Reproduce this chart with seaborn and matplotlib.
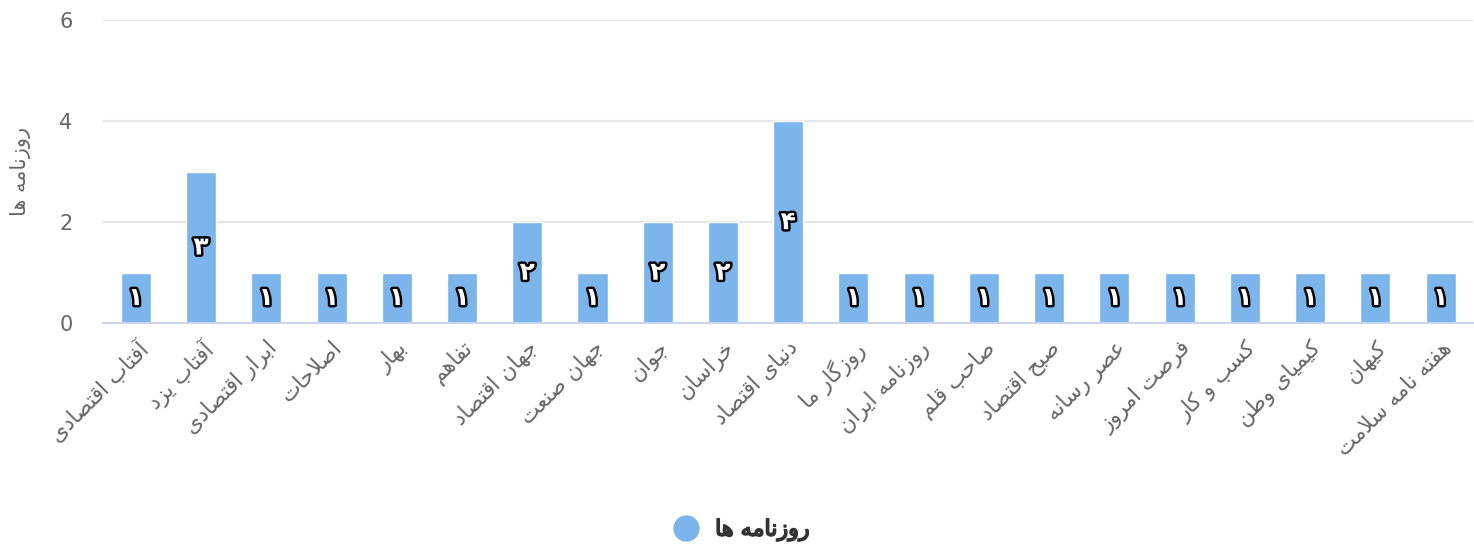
import numpy as np
import pandas as pd
import seaborn as sns
from matplotlib import pyplot as plt
from matplotlib import patheffects as pe
from matplotlib.lines import Line2D

# data
papers = ['آفتاب اقتصادی', 'آفتاب یزد', 'ابرار اقتصادی', 'اصلاحات', 'بهار', 'تفاهم',
          'جهان اقتصاد', 'جهان صنعت', 'جوان', 'خراسان', 'دنیای اقتصاد', 'روزگار ما',
          'روزنامه ایران', 'صاحب قلم', 'صبح اقتصاد', 'عصر رسانه', 'فرصت امروز',
          'کسب و کار', 'کیمیای وطن', 'کیهان', 'هفته نامه سلامت']
counts = [1, 3, 1, 1, 1, 1, 2, 1, 2, 2, 4, 1, 1, 1, 1, 1, 1, 1, 1, 1, 1]
series_name = 'روزنامه ها'
yticks = [0, 2, 4, 6]

# matplotlib has no arabic shaping -> map letters to presentation forms by hand
FORMS = {
    'ا': (0xFE8D, 0xFE8E), 'آ': (0xFE81, 0xFE82), 'د': (0xFEA9, 0xFEAA),
    'ذ': (0xFEAB, 0xFEAC), 'ر': (0xFEAD, 0xFEAE), 'ز': (0xFEAF, 0xFEB0),
    'ژ': (0xFB8A, 0xFB8B), 'و': (0xFEED, 0xFEEE),
    'LA': (0xFEFB, 0xFEFC), 'LAA': (0xFEF5, 0xFEF6),
    'ب': (0xFE8F, 0xFE90, 0xFE91, 0xFE92), 'پ': (0xFB56, 0xFB57, 0xFB58, 0xFB59),
    'ت': (0xFE95, 0xFE96, 0xFE97, 0xFE98), 'ث': (0xFE99, 0xFE9A, 0xFE9B, 0xFE9C),
    'ج': (0xFE9D, 0xFE9E, 0xFE9F, 0xFEA0), 'چ': (0xFB7A, 0xFB7B, 0xFB7C, 0xFB7D),
    'ح': (0xFEA1, 0xFEA2, 0xFEA3, 0xFEA4), 'خ': (0xFEA5, 0xFEA6, 0xFEA7, 0xFEA8),
    'س': (0xFEB1, 0xFEB2, 0xFEB3, 0xFEB4), 'ش': (0xFEB5, 0xFEB6, 0xFEB7, 0xFEB8),
    'ص': (0xFEB9, 0xFEBA, 0xFEBB, 0xFEBC), 'ض': (0xFEBD, 0xFEBE, 0xFEBF, 0xFEC0),
    'ط': (0xFEC1, 0xFEC2, 0xFEC3, 0xFEC4), 'ظ': (0xFEC5, 0xFEC6, 0xFEC7, 0xFEC8),
    'ع': (0xFEC9, 0xFECA, 0xFECB, 0xFECC), 'غ': (0xFECD, 0xFECE, 0xFECF, 0xFED0),
    'ف': (0xFED1, 0xFED2, 0xFED3, 0xFED4), 'ق': (0xFED5, 0xFED6, 0xFED7, 0xFED8),
    'ک': (0xFB8E, 0xFB8F, 0xFB90, 0xFB91), 'گ': (0xFB92, 0xFB93, 0xFB94, 0xFB95),
    'ل': (0xFEDD, 0xFEDE, 0xFEDF, 0xFEE0), 'م': (0xFEE1, 0xFEE2, 0xFEE3, 0xFEE4),
    'ن': (0xFEE5, 0xFEE6, 0xFEE7, 0xFEE8), 'ه': (0xFEE9, 0xFEEA, 0xFEEB, 0xFEEC),
    'ی': (0xFBFC, 0xFBFD, 0xFBFE, 0xFBFF),
}


def shape(text):
    items = []
    i = 0
    while i < len(text):
        c = text[i]
        if c == 'ل' and i + 1 < len(text) and text[i + 1] in 'اآ':
            items.append('LA' if text[i + 1] == 'ا' else 'LAA')
            i += 2
            continue
        items.append(c)
        i += 1
    out = []
    for k, c in enumerate(items):
        if c not in FORMS:
            out.append(c)
            continue
        f = FORMS[c]
        prev = items[k - 1] if k > 0 else None
        nxt = items[k + 1] if k + 1 < len(items) else None
        jp = prev in FORMS and len(FORMS[prev]) == 4
        jn = len(f) == 4 and nxt in FORMS
        if jp and jn:
            out.append(chr(f[3]))
        elif jp:
            out.append(chr(f[1]))
        elif jn:
            out.append(chr(f[2]))
        else:
            out.append(chr(f[0]))
    return ''.join(out[::-1])


def fa_num(v):
    return str(v).translate(str.maketrans('0123456789', '۰۱۲۳۴۵۶۷۸۹'))


df = pd.DataFrame({'paper': [shape(p) for p in papers], 'count': counts})

sns.set_style('white')
plt.rcParams['font.family'] = ['DejaVu Sans']

fig, ax = plt.subplots(figsize=(14.74, 5.46), dpi=100)
fig.subplots_adjust(left=0.07, right=0.9995, top=0.963, bottom=0.408)

sns.barplot(data=df, x='paper', y='count', color='#7cb5ec', saturation=1,
            width=0.46, edgecolor='white', linewidth=1, ax=ax)

for i, v in enumerate(counts):
    ax.text(i, v / 2, fa_num(v), ha='center', va='center', color='white',
            fontsize=18, fontweight='bold',
            path_effects=[pe.withStroke(linewidth=3.5, foreground='black')])

ax.set_ylim(0, 6)
ax.set_xlim(-0.5, len(counts) - 0.5)
ax.set_yticks(yticks)
ax.yaxis.grid(True, color='#e6e6e6', linewidth=1.5)
ax.set_axisbelow(True)
for s in ['top', 'right', 'left']:
    ax.spines[s].set_visible(False)
ax.spines['bottom'].set_color('#ccd6eb')
ax.spines['bottom'].set_linewidth(1.5)
ax.tick_params(axis='y', length=0, pad=22, labelsize=15, labelcolor='#666666')
ax.tick_params(axis='x', length=0, pad=10, labelsize=15.5, labelcolor='#666666')
plt.setp(ax.get_xticklabels(), rotation=45, ha='right', rotation_mode='anchor')

ax.set_xlabel('')
ax.set_ylabel(shape(series_name), fontsize=15, color='#666666', labelpad=20)

# regular weight + thin stroke instead of bold (bold face breaks the shaped text)
handle = Line2D([], [], marker='o', linestyle='', markersize=18,
                color='#7cb5ec')
leg = fig.legend([handle], [shape(series_name)], loc='center',
                 bbox_to_anchor=(0.5, 0.03), frameon=False, handletextpad=0.3,
                 prop={'size': 16})
for t in leg.get_texts():
    t.set_color('#333333')
    t.set_path_effects([pe.withStroke(linewidth=1.2, foreground='#333333')])

fig.savefig('out.png', dpi=100)
